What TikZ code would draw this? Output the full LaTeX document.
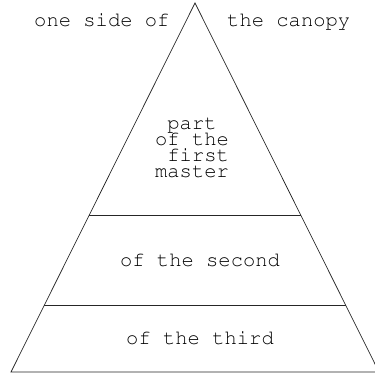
\documentclass[tikz,border=0pt]{standalone}
\usepackage[T1]{fontenc}
\usepackage{tikz}
\usetikzlibrary{calc}

\begin{document}
\begin{tikzpicture}[
    x=1pt, y=-1pt,
    edge/.style={draw=black!85, line width=0.7pt},
    words/.style={font=\fontfamily{pcr}\fontsize{20.5}{16.3}\selectfont,
                  inner sep=0pt, align=center}
]
\useasboundingbox (0,0) rectangle (375,374);
\coordinate (apex) at (195,3);
\coordinate (left) at (11,372);
\coordinate (right) at (379,372);
\draw[edge] (apex) -- (left) -- (right) -- cycle;
% the two bands
\draw[edge] ($(apex)!0.5764!(left)$) -- ($(apex)!0.5764!(right)$);
\draw[edge] ($(apex)!0.8184!(left)$) -- ($(apex)!0.8184!(right)$);
\node[words, anchor=base west] (side) at (34,27) {one side of};
\node[words, anchor=base west] (canopy) at (227,27) {the canopy};
\node[words, anchor=base] (first) at (192,178) {part\\of the\\~first\\master};
\node[words, anchor=base] (second) at (200,267) {of the second};
\node[words, anchor=base] (third) at (200,344) {of the third};
\end{tikzpicture}
\end{document}
